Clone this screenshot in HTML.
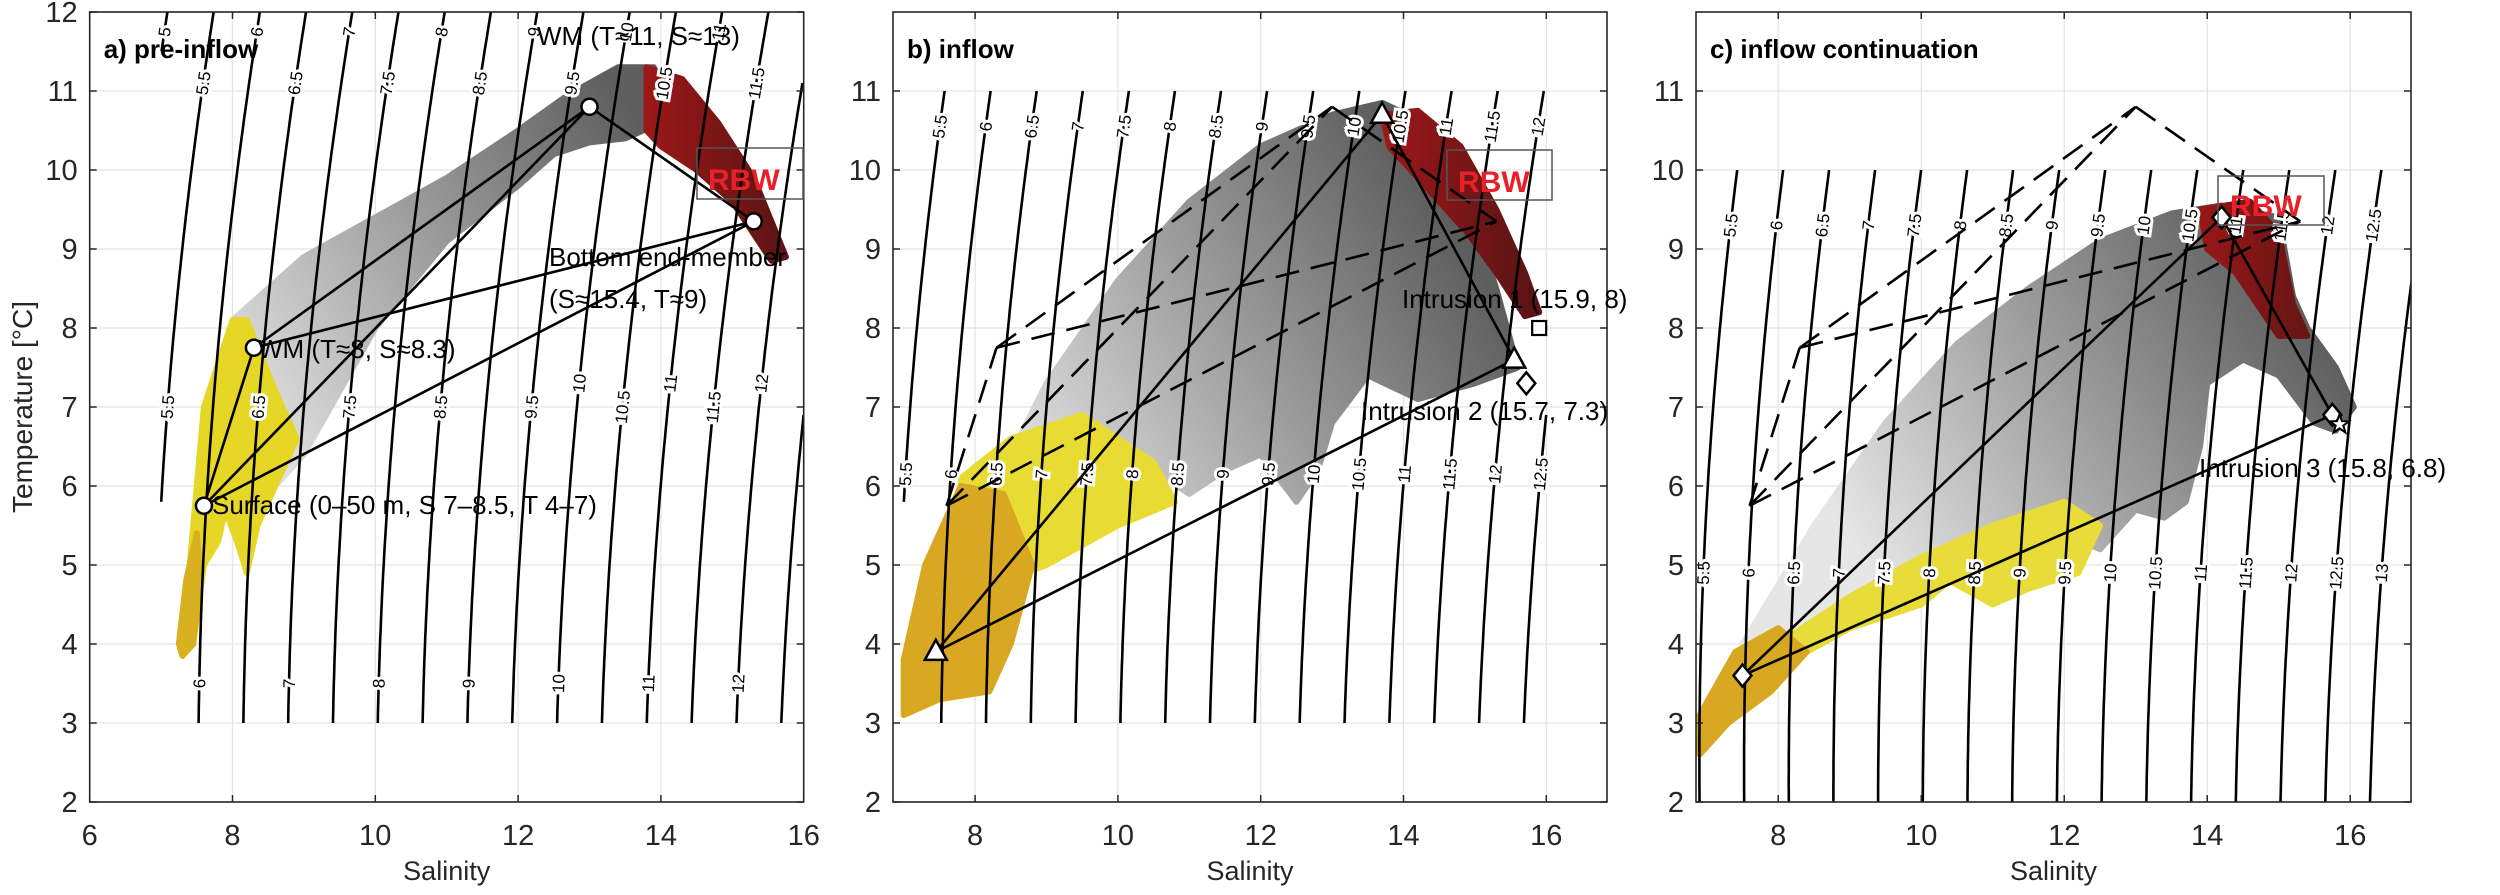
<!DOCTYPE html>
<html><head><meta charset="utf-8"><style>
html,body{margin:0;padding:0;background:#fff;}
svg{display:block;font-family:"Liberation Sans",Arial,sans-serif;}
</style></head><body>
<svg id="s" width="2500" height="895" viewBox="0 0 2500 895" xmlns="http://www.w3.org/2000/svg"></svg>
<script>
function sig(S,T){
 var rw=999.842594+6.793952e-2*T-9.095290e-3*T*T+1.001685e-4*T*T*T-1.120083e-6*Math.pow(T,4)+6.536332e-9*Math.pow(T,5);
 var r=rw+S*(0.824493-4.0899e-3*T+7.6438e-5*T*T-8.2467e-7*T*T*T+5.3875e-9*Math.pow(T,4))+Math.pow(S,1.5)*(-5.72466e-3+1.0227e-4*T-1.6546e-6*T*T)+4.8314e-4*S*S;
 return r-1000;}
function solveS(g,T){var a=0,b=40;for(var i=0;i<50;i++){var m=(a+b)/2;if(sig(m,T)<g)a=m;else b=m;}return (a+b)/2;}
var P=[
 {x0:89.7,x1:803.7,s0:6,k:71.4,name:"a) pre-inflow",xt:[6,8,10,12,14,16],yt:[2,3,4,5,6,7,8,9,10,11,12],g:{s:[7,16],t:[3,12]},lab:{i:[11.75,3.5],h:[11.1,7.0]}},
 {x0:893,x1:1607,s0:6.85,k:71.4,name:"b) inflow",xt:[8,10,12,14,16],yt:[2,3,4,5,6,7,8,9,10,11],g:{s:[7,16],t:[3,11]},lab:{i:[10.55,6.15],h:[10.55,6.15]}},
 {x0:1696,x1:2411,s0:6.85,k:71.5,name:"c) inflow continuation",xt:[8,10,12,14,16],yt:[2,3,4,5,6,7,8,9,10,11],g:{s:[6.5,17.5],t:[2,10]},lab:{i:[9.3,4.9],h:[9.3,4.9]}}
];
function Y(T){return 802-(T-2)*79;}
var o=[];
o.push('<defs><clipPath id="c0"><rect x="89.7" y="12" width="714" height="790"/></clipPath><clipPath id="c1"><rect x="893" y="12" width="714" height="790"/></clipPath><clipPath id="c2"><rect x="1696" y="12" width="715" height="790"/></clipPath>');
P.forEach(function(p,i){
 var X=function(S){return p.x0+(S-p.s0)*p.k;};
 o.push('<linearGradient id="gg'+i+'" gradientUnits="userSpaceOnUse" x1="'+X(8.5)+'" y1="'+Y(6)+'" x2="'+X(14.5)+'" y2="'+Y(9.5)+'"><stop offset="0" stop-color="#e6e6e6"/><stop offset="0.5" stop-color="#a0a0a0"/><stop offset="1" stop-color="#5e5e5e"/></linearGradient>');
 o.push('<linearGradient id="rg'+i+'" gradientUnits="userSpaceOnUse" x1="'+X(13.5)+'" y1="0" x2="'+X(15.8)+'" y2="0"><stop offset="0" stop-color="#a51818"/><stop offset="1" stop-color="#5a1414"/></linearGradient>');
});
o.push('</defs>');
var poly={
0:[
 ["url(#gg0)",[[8.0,8.1],[8.5,8.5],[9,8.9],[10,9.4],[11,9.9],[12,10.5],[12.7,10.95],[13.4,11.3],[13.9,11.3],[14.0,10.6],[13.5,10.4],[13,10.35],[12.5,10.2],[12,9.8],[11,9.1],[10,8.0],[9.5,7.2],[9.0,6.4],[8.6,6.0],[8.3,7.0]]],
 ["#e6d626",[[7.3,3.85],[7.45,4.0],[7.6,5.0],[7.8,5.3],[7.9,5.7],[8.1,5.2],[8.2,4.9],[8.35,5.5],[8.6,6.0],[8.9,6.6],[8.6,7.2],[8.2,8.1],[8.0,8.1],[7.6,7.0],[7.5,6.0],[7.4,5.0],[7.25,4.0]]],
 ["#d8b020",[[7.3,3.85],[7.45,4.0],[7.55,4.8],[7.5,5.4],[7.35,4.8],[7.25,4.0]]],
 ["url(#rg0)",[[13.8,11.3],[14.3,11.15],[14.8,10.6],[15.3,9.9],[15.75,8.9],[15.55,8.85],[15.0,9.6],[14.5,10.0],[14.0,10.3],[13.8,10.5]]]
],
1:[
 ["url(#gg1)",[[8.5,6.4],[9,7.3],[10,8.6],[11,9.6],[12,10.3],[13,10.7],[13.7,10.85],[14.3,10.6],[14.9,9.6],[15.3,8.5],[15.6,7.5],[15.0,7.3],[14.2,7.1],[13.5,7.4],[13,6.8],[12.8,6.2],[12.5,5.8],[12,6.4],[11.5,6.2],[11.0,5.9],[10.5,6.2],[10,6.4],[9,5.8]]],
 ["#e8dc34",[[7.8,4.6],[9.0,5.0],[10.0,5.5],[10.8,5.8],[10.5,6.3],[9.5,6.9],[8.5,6.6],[7.8,6.1]]],
 ["#d9a823",[[7.0,3.1],[7.5,3.3],[8.2,3.4],[8.5,4.0],[8.8,5.0],[8.4,5.9],[7.8,6.0],[7.3,5.0],[7.0,3.8]]],
 ["url(#rg1)",[[13.7,10.7],[14.2,10.75],[14.8,10.3],[15.3,9.5],[15.7,8.7],[15.9,8.2],[15.7,8.15],[15.3,8.7],[14.9,9.2],[14.5,9.6],[14.1,10.0],[13.8,10.3]]]
],
2:[
 ["url(#gg2)",[[7.5,4.0],[8.5,5.5],[9.5,6.8],[10.5,7.8],[11.5,8.5],[12.5,9.1],[13.5,9.45],[14.2,9.55],[15.0,9.4],[15.2,8.4],[15.4,8.0],[15.8,7.5],[16.05,7.0],[15.8,6.7],[15.5,6.8],[15.0,7.4],[14.5,7.6],[14.0,7.3],[13.9,6.5],[13.7,5.8],[13.4,5.6],[13,5.7],[12.5,5.2],[12,5.4],[10,5.0],[8.5,4.2],[7.5,3.5]]],
 ["#e8dc3a",[[7.3,3.4],[8,4.0],[9,4.6],[10,5.1],[11,5.5],[12,5.8],[12.5,5.5],[12.2,4.9],[11.5,4.7],[11,4.5],[10.4,4.8],[10,4.5],[9,4.2],[8,3.7]]],
 ["#d9a823",[[6.9,2.6],[7.3,3.0],[7.9,3.4],[8.4,3.9],[8.0,4.2],[7.4,3.9],[6.9,3.1]]],
 ["url(#rg2)",[[13.9,9.5],[14.6,9.6],[15.0,9.2],[15.2,8.3],[15.4,7.9],[15.0,7.9],[14.7,8.3],[14.4,8.7],[14.0,9.0]]]
]};
P.forEach(function(p,i){
 var X=function(S){return p.x0+(S-p.s0)*p.k;};
 var w=p.x1-p.x0;
 p.xt.forEach(function(s){o.push('<line x1="'+X(s)+'" y1="12" x2="'+X(s)+'" y2="802" stroke="#e4e4e4" stroke-width="1.2"/>');});
 p.yt.forEach(function(t){o.push('<line x1="'+p.x0+'" y1="'+Y(t)+'" x2="'+p.x1+'" y2="'+Y(t)+'" stroke="#e4e4e4" stroke-width="1.2"/>');});
 o.push('<g clip-path="url(#c'+i+')">');
 poly[i].forEach(function(q){
  o.push('<polygon fill="'+q[0]+'" stroke="'+q[0]+'" stroke-width="6" stroke-linejoin="round" points="'+q[1].map(function(v){return X(v[0]).toFixed(1)+','+Y(v[1]).toFixed(1);}).join(' ')+'"/>');
 });
 var labs=[];
 for(var g=4.5;g<=13.01;g+=0.5){
  var pts=[];
  for(var T=p.g.t[0];T<=p.g.t[1]+1e-6;T+=0.1){
   var S=solveS(g,T);
   if(S>=p.g.s[0]&&S<=p.g.s[1])pts.push([X(S),Y(T)]);
  }
  if(pts.length<2)continue;
  o.push('<polyline fill="none" stroke="#000" stroke-width="2.6" points="'+pts.map(function(v){return v[0].toFixed(1)+','+v[1].toFixed(1);}).join(' ')+'"/>');
  var isI=Math.abs(g-Math.round(g))<0.01;
  var Ts=isI?p.lab.i:p.lab.h;
  if(i==0&&isI&&g>=10)Ts=Ts.concat([7.3]);
  Ts.forEach(function(T){
   if(T<p.g.t[0]||T>p.g.t[1])return;
   var S=solveS(g,T);if(S<p.g.s[0]||S>p.g.s[1])return;
   var S2=solveS(g,T+0.5);
   var ang=Math.atan2(Y(T+0.5)-Y(T),X(S2)-X(S))*180/Math.PI;
   labs.push('<g transform="translate('+X(S).toFixed(1)+','+Y(T).toFixed(1)+') rotate('+ang.toFixed(1)+')"><text x="0" y="6" font-size="17" text-anchor="middle" stroke="#fff" stroke-width="6" paint-order="stroke" fill="#000">'+(isI?g.toFixed(0):g.toFixed(1))+'</text></g>');
  });
 }
 o.push(labs.join(''));
 o.push('</g>');
 o.push('<rect x="'+p.x0+'" y="12" width="'+w+'" height="790" fill="none" stroke="#262626" stroke-width="1.6"/>');
 p.xt.forEach(function(s){o.push('<line x1="'+X(s)+'" y1="802" x2="'+X(s)+'" y2="795" stroke="#262626" stroke-width="1.5"/><line x1="'+X(s)+'" y1="12" x2="'+X(s)+'" y2="19" stroke="#262626" stroke-width="1.5"/><text x="'+X(s)+'" y="845" font-size="29" text-anchor="middle" fill="#262626">'+s+'</text>');});
 p.yt.forEach(function(t){o.push('<line x1="'+p.x0+'" y1="'+Y(t)+'" x2="'+(p.x0+7)+'" y2="'+Y(t)+'" stroke="#262626" stroke-width="1.5"/><line x1="'+p.x1+'" y1="'+Y(t)+'" x2="'+(p.x1-7)+'" y2="'+Y(t)+'" stroke="#262626" stroke-width="1.5"/><text x="'+(p.x0-12)+'" y="'+(Y(t)+10)+'" font-size="29" text-anchor="end" fill="#262626">'+t+'</text>');});
 o.push('<text x="'+((p.x0+p.x1)/2)+'" y="880" font-size="27" text-anchor="middle" fill="#262626">Salinity</text>');
 o.push('<text x="'+(p.x0+14)+'" y="58" font-size="26" font-weight="bold" fill="#000">'+p.name+'</text>');
 p.X=X;
});
o.push('<text transform="translate(32,407) rotate(-90)" font-size="28" text-anchor="middle" fill="#262626">Temperature [°C]</text>');
function L(X,a,b,dash){return '<line x1="'+X(a[0])+'" y1="'+Y(a[1])+'" x2="'+X(b[0])+'" y2="'+Y(b[1])+'" stroke="#000" stroke-width="2.6"'+(dash?' stroke-dasharray="24,12"':'')+'/>';}
var s1=[7.6,5.75],w1=[8.3,7.75],w2=[13.0,10.8],bt=[15.3,9.35];
var pairs=[[s1,w1],[s1,w2],[s1,bt],[w1,w2],[w1,bt],[w2,bt]];
var Xa=P[0].X;
pairs.forEach(function(q){o.push(L(Xa,q[0],q[1]));});
[s1,w1,w2,bt].forEach(function(q){o.push('<circle cx="'+Xa(q[0])+'" cy="'+Y(q[1])+'" r="8" fill="#fff" stroke="#000" stroke-width="2.5"/>');});
o.push('<rect x="697" y="148" width="106" height="51" fill="none" stroke="#555" stroke-width="1.5"/><text x="708" y="190" font-size="30" font-weight="bold" fill="#e8202a">RBW</text>');
o.push('<text font-size="26" fill="#000"><tspan x="537" y="45">WM (T≈11, S≈13)</tspan><tspan x="549" y="266">Bottom end-member</tspan><tspan x="549" y="308">(S≈15.4, T≈9)</tspan><tspan x="258" y="358">WM (T≈8, S≈8.3)</tspan><tspan x="212" y="514">Surface (0–50 m, S 7–8.5, T 4–7)</tspan></text>');
[1,2].forEach(function(i){var X=P[i].X;o.push('<g clip-path="url(#c'+i+')">');pairs.forEach(function(q){o.push(L(X,q[0],q[1],true));});o.push('</g>');});
var Xb=P[1].X,t1=[7.45,3.9],t2=[13.7,10.7],t3=[15.55,7.6];
[[t1,t2],[t2,t3],[t1,t3]].forEach(function(q){o.push(L(Xb,q[0],q[1]));});
function tri(X,q){var x=X(q[0]),y=Y(q[1]);return '<polygon points="'+x+','+(y-12)+' '+(x-11)+','+(y+8)+' '+(x+11)+','+(y+8)+'" fill="#fff" stroke="#000" stroke-width="2.5"/>';}
function dia(X,q){var x=X(q[0]),y=Y(q[1]);return '<polygon points="'+x+','+(y-11)+' '+(x+9)+','+y+' '+x+','+(y+11)+' '+(x-9)+','+y+'" fill="#fff" stroke="#000" stroke-width="2.5"/>';}
[t1,t2,t3].forEach(function(q){o.push(tri(Xb,q));});
o.push('<rect x="'+(Xb(15.9)-7)+'" y="'+(Y(8)-7)+'" width="14" height="14" fill="#fff" stroke="#000" stroke-width="2.2"/>');
o.push(dia(Xb,[15.72,7.3]));
o.push('<rect x="1447" y="150" width="105" height="50" fill="none" stroke="#555" stroke-width="1.5"/><text x="1458" y="192" font-size="30" font-weight="bold" fill="#e8202a">RBW</text>');
o.push('<text font-size="26" fill="#000"><tspan x="1402" y="308">Intrusion 1 (15.9, 8)</tspan><tspan x="1361" y="420">Intrusion 2 (15.7, 7.3)</tspan></text>');
var Xc=P[2].X,d1=[7.5,3.6],d2=[14.2,9.4],d3=[15.75,6.9];
[[d1,d2],[d2,d3],[d1,d3]].forEach(function(q){o.push(L(Xc,q[0],q[1]));});
[d1,d2,d3].forEach(function(q){o.push(dia(Xc,q));});
(function(){var x=Xc(15.85),y=Y(6.78),s='';for(var k=0;k<10;k++){var r=k%2?4:10,a=-Math.PI/2+k*Math.PI/5;s+=(x+r*Math.cos(a)).toFixed(1)+','+(y+r*Math.sin(a)).toFixed(1)+' ';}o.push('<polygon points="'+s+'" fill="#fff" stroke="#000" stroke-width="2"/>');})();
o.push('<rect x="2218" y="176" width="106" height="49" fill="none" stroke="#555" stroke-width="1.5"/><text x="2230" y="216" font-size="30" font-weight="bold" fill="#e8202a">RBW</text>');
o.push('<text x="2199" y="477" font-size="26" fill="#000">Intrusion 3 (15.8, 6.8)</text>');
document.getElementById('s').innerHTML=o.join('');
</script>
</body></html>
